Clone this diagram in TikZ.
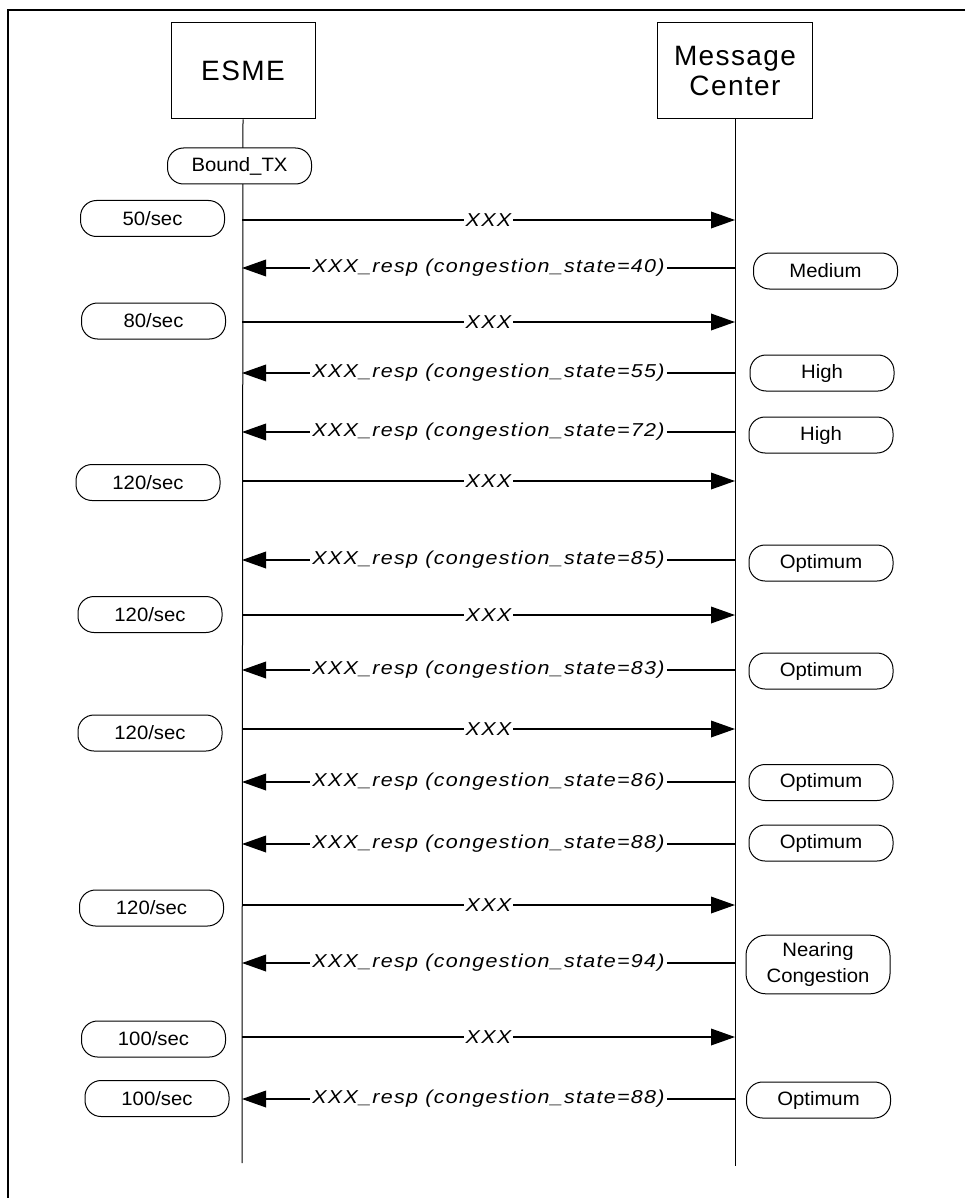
\documentclass[tikz,border=0pt]{standalone}
\usepackage{fontspec}
\setmainfont{Liberation Sans}[FakeStretch=1.05]
\newfontfamily\msgfont{Liberation Sans}[FakeStretch=1.15,LetterSpace=7]
\newfontfamily\boxfont{Liberation Sans}[LetterSpace=5]
\usetikzlibrary{positioning,arrows.meta}

\tikzset{
  entity/.style={draw,line width=0.75pt,fill=white,minimum width=108pt,minimum height=72pt,
    align=center,font=\boxfont\fontsize{21}{23}\selectfont},
  statebox/.style={draw,line width=0.75pt,fill=white,rounded corners=12pt,minimum width=108pt,
    minimum height=27pt,inner sep=1pt,align=center,font=\fontsize{14.5}{19.5}\selectfont},
  lifeline/.style={line width=0.75pt},
  msg/.style={line width=1pt,-{Triangle[length=18pt,width=12.5pt]}},
  msgtext/.style={midway,fill=white,inner sep=1.5pt,font=\msgfont\itshape\fontsize{14}{16}\selectfont}
}

\begin{document}
\begin{tikzpicture}[x=0.75pt,y=-0.75pt]
            \useasboundingbox (0,0) rectangle (965,1198);
            % Frame
            \draw[line width=1.5pt] (965,10) -- (8,10) -- (8,1198);
            % Parties
            \node[entity] (esme) at (243,71) {ESME};
            \node[entity,minimum width=116pt] (mc) at (735,71) {Message\\Center};
            \coordinate (esmeend) at (242,1163);
            \coordinate (mcend) at (735,1166);
            \draw[lifeline] (esme.south) -- (esmeend);
            \draw[lifeline] (mc.south) -- (mcend);
            \node[statebox] (bound) at (239.5,166) {Bound\_TX};
            % Points on the lifelines
            \coordinate (e1) at (242,220);  \coordinate (m1) at (735,220);
            \coordinate (e2) at (242,268);  \coordinate (m2) at (735,268);
            \coordinate (e3) at (242,322);  \coordinate (m3) at (735,322);
            \coordinate (e4) at (242,373);  \coordinate (m4) at (735,373);
            \coordinate (e5) at (242,432);  \coordinate (m5) at (735,432);
            \coordinate (e6) at (242,481);  \coordinate (m6) at (735,481);
            \coordinate (e7) at (242,560);  \coordinate (m7) at (735,560);
            \coordinate (e8) at (242,615);  \coordinate (m8) at (735,615);
            \coordinate (e9) at (242,670);  \coordinate (m9) at (735,670);
            \coordinate (e10) at (242,729); \coordinate (m10) at (735,729);
            \coordinate (e11) at (242,782); \coordinate (m11) at (735,782);
            \coordinate (e12) at (242,844); \coordinate (m12) at (735,844);
            \coordinate (e13) at (242,905); \coordinate (m13) at (735,905);
            \coordinate (e14) at (242,963); \coordinate (m14) at (735,963);
            \coordinate (e15) at (242,1037); \coordinate (m15) at (735,1037);
            \coordinate (e16) at (242,1099); \coordinate (m16) at (735,1099);
            % Messages
            \draw[msg] (e1) -- (m1) node[msgtext] {XXX};
            \draw[msg] (m2) -- (e2) node[msgtext] {XXX\_resp (congestion\_state=40)};
            \draw[msg] (e3) -- (m3) node[msgtext] {XXX};
            \draw[msg] (m4) -- (e4) node[msgtext] {XXX\_resp (congestion\_state=55)};
            \draw[msg] (m5) -- (e5) node[msgtext] {XXX\_resp (congestion\_state=72)};
            \draw[msg] (e6) -- (m6) node[msgtext] {XXX};
            \draw[msg] (m7) -- (e7) node[msgtext] {XXX\_resp (congestion\_state=85)};
            \draw[msg] (e8) -- (m8) node[msgtext] {XXX};
            \draw[msg] (m9) -- (e9) node[msgtext] {XXX\_resp (congestion\_state=83)};
            \draw[msg] (e10) -- (m10) node[msgtext] {XXX};
            \draw[msg] (m11) -- (e11) node[msgtext] {XXX\_resp (congestion\_state=86)};
            \draw[msg] (m12) -- (e12) node[msgtext] {XXX\_resp (congestion\_state=88)};
            \draw[msg] (e13) -- (m13) node[msgtext] {XXX};
            \draw[msg] (m14) -- (e14) node[msgtext] {XXX\_resp (congestion\_state=94)};
            \draw[msg] (e15) -- (m15) node[msgtext] {XXX};
            \draw[msg] (m16) -- (e16) node[msgtext] {XXX\_resp (congestion\_state=88)};
            % Rates (ESME side)
            \node[statebox] (r50) at (152.5,218.5) {50/sec};
            \node[statebox] (r80) at (153.5,321) {80/sec};
            \node[statebox] (r120a) at (148,482.5) {120/sec};
            \node[statebox] (r120b) at (150,614.5) {120/sec};
            \node[statebox] (r120c) at (150,733) {120/sec};
            \node[statebox] (r120d) at (151.5,908) {120/sec};
            \node[statebox] (r100a) at (153.5,1039) {100/sec};
            \node[statebox] (r100b) at (157,1098.5) {100/sec};
            % States (Message Center side)
            \node[statebox] (s40) at (825.5,271) {Medium};
            \node[statebox] (s55) at (822,373) {High};
            \node[statebox] (s72) at (821,435) {High};
            \node[statebox] (s85) at (821,563) {Optimum};
            \node[statebox] (s83) at (821,671) {Optimum};
            \node[statebox] (s86) at (821,782.5) {Optimum};
            \node[statebox] (s88) at (821,843) {Optimum};
            \node[statebox,minimum height=44pt,rounded corners=15pt] (s94) at (818,964.5) {Nearing\\Congestion};
            \node[statebox] (s88b) at (818.5,1100) {Optimum};
\end{tikzpicture}
\end{document}
